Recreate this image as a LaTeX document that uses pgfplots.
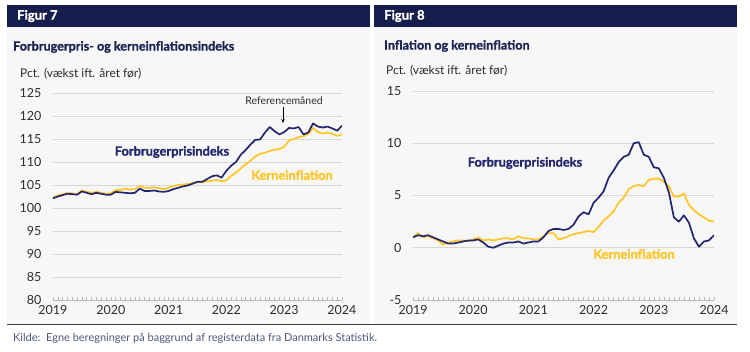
\documentclass[border=0pt]{standalone}
\usepackage{pgfplots}
\pgfplotsset{compat=1.18}
\usepackage{pgfplotstable}
\usepackage{fontspec}
\setmainfont{Lato}[BoldFeatures={FakeBold=1.2}]
\usetikzlibrary{arrows.meta}
\definecolor{hdr}{RGB}{22,30,78}
\definecolor{ttl}{RGB}{27,36,82}
\definecolor{navyl}{RGB}{35,38,110}
\definecolor{yel}{RGB}{255,197,36}
\definecolor{panel}{RGB}{247,247,247}
\definecolor{gridc}{RGB}{215,215,215}
\definecolor{txt}{RGB}{45,45,45}
\definecolor{src}{RGB}{80,88,125}

\pgfplotstableread{
m cpi core
0 102.1 102.3
1 102.5 102.7
2 102.8 103.0
3 103.1 103.2
4 103.0 103.2
5 102.9 103.0
6 103.6 103.8
7 103.3 103.5
8 103.0 103.3
9 103.3 103.5
10 103.1 103.3
11 102.9 103.1
12 102.9 103.2
13 103.5 103.9
14 103.4 103.9
15 103.3 104.2
16 103.2 104.0
17 103.3 104.1
18 104.2 104.8
19 103.7 104.4
20 103.7 104.4
21 103.8 104.5
22 103.6 104.3
23 103.5 104.1
24 103.7 104.4
25 104.1 104.8
26 104.4 105.0
27 104.7 105.1
28 104.9 105.2
29 105.3 105.4
30 105.7 105.6
31 105.7 105.6
32 106.3 105.8
33 106.9 105.9
34 107.1 106.1
35 106.6 105.8
36 108.1 106.0
37 109.2 107.0
38 110.0 107.7
39 111.6 108.6
40 112.6 109.5
41 113.8 110.3
42 114.8 111.2
43 114.9 111.8
44 116.4 112.0
45 117.6 112.4
46 116.7 112.7
47 116.0 112.8
48 116.5 113.3
49 117.4 114.7
50 117.3 115.0
51 117.6 115.4
52 116.0 115.6
53 116.4 116.1
54 118.4 117.4
55 117.7 116.5
56 117.5 116.2
57 117.7 116.4
58 117.3 116.1
59 116.8 115.7
60 117.9 116.0
}\idx

\pgfplotstableread{
m cpi core
0 1.0 1.0
1 1.2 1.4
2 1.1 1.0
3 1.2 1.1
4 1.0 0.9
5 0.8 0.7
6 0.6 0.3
7 0.4 0.5
8 0.4 0.6
9 0.5 0.7
10 0.6 0.7
11 0.7 0.6
12 0.7 0.8
13 0.8 1.0
14 0.5 0.7
15 0.1 0.8
16 0.0 0.7
17 0.2 0.8
18 0.4 0.9
19 0.5 0.9
20 0.5 0.8
21 0.6 1.1
22 0.4 0.9
23 0.5 0.9
24 0.6 0.8
25 0.6 0.8
26 1.0 1.1
27 1.6 1.4
28 1.8 1.4
29 1.8 0.8
30 1.7 0.9
31 1.8 1.1
32 2.2 1.3
33 3.0 1.4
34 3.4 1.5
35 3.2 1.6
36 4.3 1.5
37 4.8 2.0
38 5.4 2.6
39 6.7 3.0
40 7.4 3.5
41 8.2 4.3
42 8.7 4.8
43 8.9 5.6
44 10.0 5.9
45 10.1 6.0
46 8.9 5.9
47 8.7 6.5
48 7.7 6.6
49 7.6 6.6
50 6.7 6.3
51 5.3 5.9
52 2.9 4.9
53 2.5 4.9
54 3.1 5.2
55 2.4 4.1
56 0.9 3.6
57 0.1 3.2
58 0.6 2.9
59 0.7 2.6
60 1.2 2.5
}\infl

\pgfplotsset{
  panelaxis/.style={
    scale only axis,
    anchor=south west,
    xmin=0, xmax=60,
    enlargelimits=false,
    xtick={0,12,...,60},
    xticklabels={2019,2020,2021,2022,2023,2024},
    minor x tick num=11,
    axis x line*=bottom,
    axis y line*=left,
    y axis line style={draw=none},
    x axis line style={draw=gray!55, line width=0.8pt},
    ytick style={draw=none},
    xtick style={draw=gray!55, line width=0.5pt},
    minor tick style={draw=gray!55, line width=0.5pt},
    tick align=inside,
    major tick length=3pt,
    minor tick length=3pt,
    ymajorgrids,
    grid style={draw=gridc, line width=0.8pt},
    ticklabel style={font=\fontsize{12.5}{13}\selectfont, text=txt},
    /pgf/number format/assume math mode=true,
    yticklabel style={xshift=-8pt},
    xticklabel style={yshift=-2pt},
    every axis plot/.append style={line width=1.7pt, line join=round, no marks},
  }
}

\begin{document}
\begin{tikzpicture}
\useasboundingbox[fill=white] (0pt,0pt) rectangle (750pt,352pt);
% panels
\fill[panel] (7pt,27pt) rectangle (370pt,325pt);
\fill[panel] (374pt,27pt) rectangle (737pt,325pt);
\fill[hdr] (7pt,325pt) rectangle (370pt,347pt);
\fill[hdr] (374pt,325pt) rectangle (737pt,347pt);
\draw[draw=black!75, line width=1pt] (7pt,27pt) -- (737pt,27pt);

\node[anchor=west, text=white, font=\fontsize{13}{14}\selectfont\bfseries, inner sep=0pt] at (17pt,336pt) {Figur 7};
\node[anchor=west, text=white, font=\fontsize{13}{14}\selectfont\bfseries, inner sep=0pt] at (384pt,336pt) {Figur 8};
\node[anchor=west, text=ttl, font=\fontsize{12.6}{13}\selectfont\bfseries, inner sep=0pt] at (13pt,305pt) {Forbrugerpris- og kerneinflationsindeks};
\node[anchor=west, text=ttl, font=\fontsize{12.6}{13}\selectfont\bfseries, inner sep=0pt] at (384pt,306pt) {Inflation og kerneinflation};
\node[anchor=west, text=txt, font=\fontsize{12}{13}\selectfont, inner sep=0pt] at (20pt,278pt) {Pct. (vækst ift. året før)};
\node[anchor=west, text=txt, font=\fontsize{12}{13}\selectfont, inner sep=0pt] at (386pt,281pt) {Pct. (vækst ift. året før)};
\node[anchor=west, text=src, font=\fontsize{11}{12}\selectfont, inner sep=0pt] at (13pt,14pt) {Kilde:\ \ Egne beregninger på baggrund af registerdata fra Danmarks Statistik.};

\begin{axis}[panelaxis, at={(53pt,52pt)}, width=289pt, height=207pt,
  ymin=80, ymax=125, ytick={80,85,...,125}]
  \addplot[yel] table[x=m, y=core] {\idx};
  \addplot[navyl] table[x=m, y=cpi] {\idx};
\end{axis}

\begin{axis}[panelaxis, at={(413pt,52pt)}, width=301pt, height=209pt,
  ymin=-5, ymax=15, ytick={-5,0,5,10,15}]
  \addplot[yel] table[x=m, y=core] {\infl};
  \addplot[navyl] table[x=m, y=cpi] {\infl};
\end{axis}

% annotations
\node[text=navyl, font=\fontsize{12.8}{13}\selectfont\bfseries, inner sep=0pt] at (172pt,200pt) {Forbrugerprisindeks};
\node[text=yel, font=\fontsize{12.8}{13}\selectfont\bfseries, inner sep=0pt] at (292pt,177pt) {Kerneinflation};
\node[text=navyl, font=\fontsize{12.8}{13}\selectfont\bfseries, inner sep=0pt] at (525pt,189pt) {Forbrugerprisindeks};
\node[text=yel, font=\fontsize{12.8}{13}\selectfont\bfseries, inner sep=0pt] at (634pt,98pt) {Kerneinflation};
\node[text=txt, font=\fontsize{10.5}{11}\selectfont, inner sep=0pt] at (284pt,251pt) {Referencemåned};
\draw[-{Stealth[length=4pt,width=3.5pt]}, line width=0.7pt, black] (283pt,245pt) -- (283pt,229pt);
\end{tikzpicture}
\end{document}
